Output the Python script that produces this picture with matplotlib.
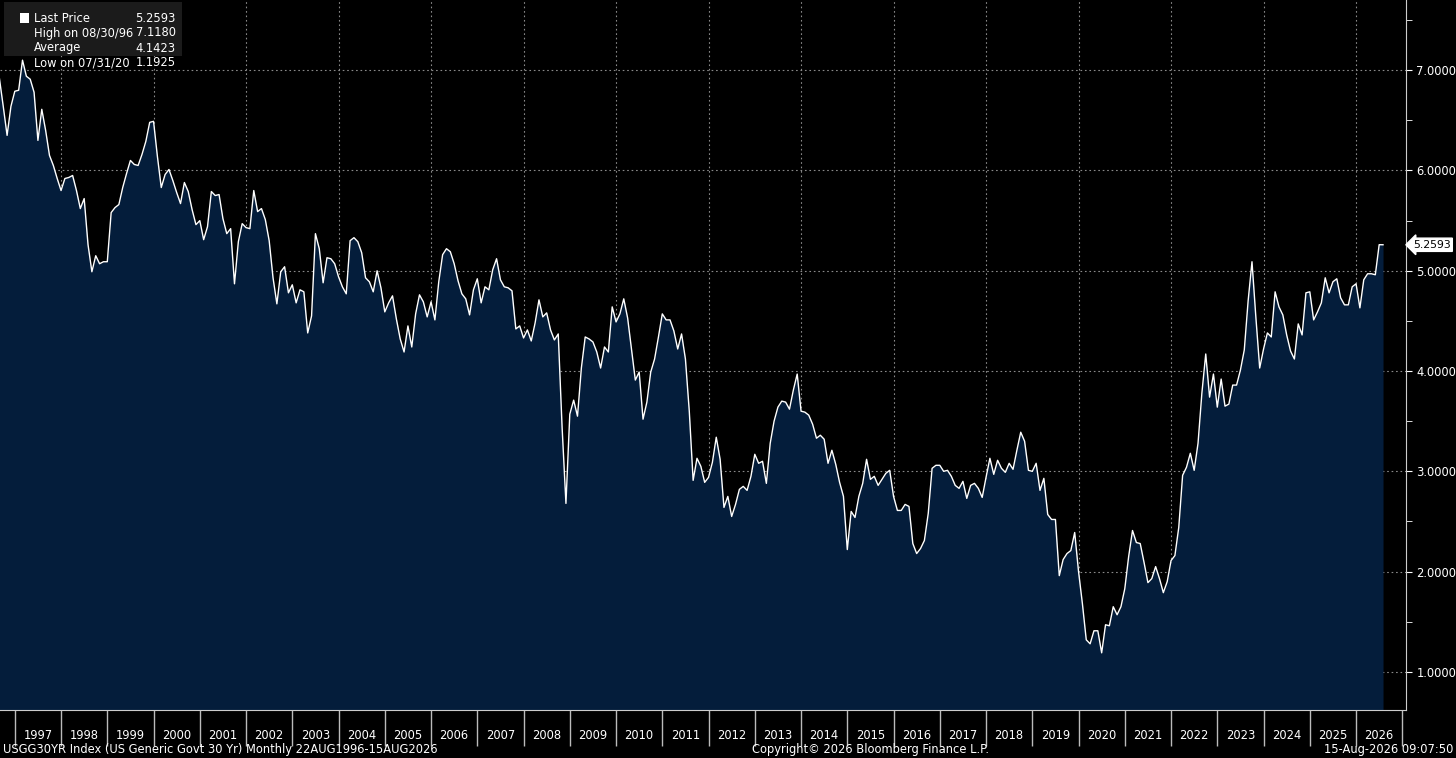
import matplotlib.pyplot as plt
import numpy as np

# monthly 30Y yields, Aug 1996 .. Aug 2026
yields_by_year = {
    1996: [7.12, 6.92, 6.64, 6.35, 6.64],
    1997: [6.79, 6.80, 7.10, 6.94, 6.91, 6.78, 6.30, 6.61, 6.40, 6.15, 6.05, 5.92],
    1998: [5.80, 5.92, 5.93, 5.95, 5.80, 5.62, 5.72, 5.26, 4.99, 5.15, 5.07, 5.09],
    1999: [5.09, 5.58, 5.63, 5.66, 5.83, 5.97, 6.10, 6.06, 6.05, 6.16, 6.29, 6.48],
    2000: [6.49, 6.14, 5.83, 5.96, 6.01, 5.90, 5.78, 5.67, 5.88, 5.79, 5.61, 5.46],
    2001: [5.50, 5.31, 5.44, 5.79, 5.75, 5.76, 5.52, 5.37, 5.42, 4.87, 5.29, 5.47],
    2002: [5.43, 5.42, 5.80, 5.59, 5.62, 5.51, 5.30, 4.93, 4.67, 4.99, 5.04, 4.78],
    2003: [4.86, 4.68, 4.81, 4.79, 4.38, 4.55, 5.37, 5.22, 4.88, 5.13, 5.12, 5.07],
    2004: [4.94, 4.84, 4.77, 5.30, 5.33, 5.29, 5.18, 4.93, 4.89, 4.79, 5.00, 4.83],
    2005: [4.59, 4.68, 4.75, 4.52, 4.32, 4.19, 4.45, 4.24, 4.57, 4.76, 4.69, 4.54],
    2006: [4.69, 4.51, 4.89, 5.16, 5.22, 5.19, 5.07, 4.90, 4.77, 4.72, 4.56, 4.81],
    2007: [4.92, 4.68, 4.84, 4.81, 5.01, 5.12, 4.91, 4.84, 4.83, 4.80, 4.42, 4.45],
    2008: [4.33, 4.41, 4.30, 4.48, 4.71, 4.54, 4.58, 4.41, 4.31, 4.37, 3.44, 2.68],
    2009: [3.57, 3.71, 3.55, 4.03, 4.34, 4.32, 4.29, 4.19, 4.03, 4.24, 4.19, 4.64],
    2010: [4.49, 4.57, 4.72, 4.53, 4.22, 3.91, 3.99, 3.52, 3.69, 3.99, 4.12, 4.34],
    2011: [4.57, 4.51, 4.51, 4.40, 4.22, 4.37, 4.12, 3.60, 2.91, 3.13, 3.05, 2.89],
    2012: [2.94, 3.09, 3.34, 3.12, 2.64, 2.75, 2.55, 2.67, 2.82, 2.85, 2.81, 2.95],
    2013: [3.17, 3.08, 3.10, 2.88, 3.28, 3.50, 3.64, 3.70, 3.69, 3.62, 3.81, 3.97],
    2014: [3.60, 3.59, 3.56, 3.47, 3.33, 3.36, 3.32, 3.08, 3.21, 3.07, 2.89, 2.75],
    2015: [2.22, 2.60, 2.54, 2.75, 2.88, 3.12, 2.92, 2.95, 2.86, 2.92, 2.98, 3.01],
    2016: [2.75, 2.61, 2.61, 2.67, 2.65, 2.28, 2.18, 2.23, 2.31, 2.58, 3.03, 3.06],
    2017: [3.06, 3.00, 3.01, 2.95, 2.86, 2.83, 2.90, 2.73, 2.86, 2.88, 2.83, 2.74],
    2018: [2.94, 3.13, 2.97, 3.11, 3.03, 2.99, 3.08, 3.02, 3.21, 3.39, 3.30, 3.01],
    2019: [3.00, 3.08, 2.81, 2.93, 2.57, 2.52, 2.52, 1.96, 2.12, 2.18, 2.21, 2.39],
    2020: [2.00, 1.68, 1.32, 1.28, 1.41, 1.41, 1.19, 1.47, 1.46, 1.65, 1.57, 1.65],
    2021: [1.83, 2.15, 2.41, 2.29, 2.28, 2.09, 1.89, 1.93, 2.05, 1.93, 1.79, 1.90],
    2022: [2.11, 2.16, 2.44, 2.96, 3.04, 3.18, 3.01, 3.28, 3.78, 4.17, 3.74, 3.97],
    2023: [3.64, 3.92, 3.65, 3.67, 3.86, 3.86, 4.01, 4.21, 4.70, 5.09, 4.54, 4.03],
    2024: [4.22, 4.38, 4.34, 4.79, 4.64, 4.56, 4.36, 4.20, 4.12, 4.47, 4.36, 4.78],
    2025: [4.79, 4.51, 4.59, 4.68, 4.93, 4.78, 4.89, 4.92, 4.73, 4.66, 4.66, 4.84],
    2026: [4.87, 4.63, 4.91, 4.97, 4.97, 4.96, 5.26, 5.2593],
}
year_labels = list(range(1997, 2027))
y_ticks = [1, 2, 3, 4, 5, 6, 7]

x, y = [], []
for yr, vals in yields_by_year.items():
    start = 8 if yr == 1996 else 1
    for i, v in enumerate(vals):
        x.append(yr + (start - 1 + i) / 12)
        y.append(v)
x = np.array(x)
y = np.array(y)

fs = 8.3
fig = plt.figure(figsize=(14.56, 7.58), dpi=100, facecolor="black")
ax = fig.add_axes([0, 48 / 758, 1406 / 1456, 710 / 758], facecolor="black")

ax.fill_between(x, y, 0, color="#041d3b", lw=0)
ax.plot(x, y, color="white", lw=1.0)

ax.set_xlim(1996.68, 2027.08)
ax.set_ylim(0.62, 7.70)

ax.yaxis.tick_right()
ax.set_yticks(y_ticks)
ax.set_yticklabels([f"{t:.4f}" for t in y_ticks])
ax.set_yticks(np.arange(1.5, 7.6, 1.0), minor=True)
ax.tick_params(axis="y", which="both", colors="white", labelsize=fs, length=4, direction="out")

ax.set_xticks(range(1997, 2028))
ax.set_xticklabels([])
ax.set_xticks([yr + 0.5 for yr in year_labels], minor=True)
ax.set_xticklabels([str(yr) for yr in year_labels], minor=True)
ax.tick_params(axis="x", which="major", colors="#bbbbbb", length=26, width=1, direction="out")
ax.tick_params(axis="x", which="minor", colors="white", length=0, labelsize=fs, pad=14)

for g in y_ticks:
    ax.axhline(g, color="#8a8a8a", lw=0.8, ls=(0, (1.5, 2.5)), zorder=0.5)
for g in range(1998, 2027, 2):
    ax.axvline(g, color="#8a8a8a", lw=0.8, ls=(0, (1.5, 2.5)), zorder=0.5)

for s in ["top", "left"]:
    ax.spines[s].set_visible(False)
ax.spines["right"].set_color("#cccccc")
ax.spines["bottom"].set_color("#cccccc")

# last price tag
ax.annotate("5.2593", xy=(1.0, y[-1]), xycoords=("axes fraction", "data"),
            xytext=(5, 0), textcoords="offset points", va="center", ha="left",
            fontsize=7.8, color="black",
            bbox=dict(boxstyle="larrow,pad=0.15", fc="white", ec="white"))

# legend box
fig.patches.append(plt.Rectangle((4 / 1456, 1 - 56 / 758), 178 / 1456, 54 / 758,
                                 transform=fig.transFigure, fc="#1b1b1b", ec="none"))
rows = [("Last Price", "5.2593"), ("High on 08/30/96", "7.1180"),
        ("Average", "4.1423"), ("Low on 07/31/20", "1.1925")]
for i, (lab, val) in enumerate(rows):
    yy = 1 - (18 + i * 15) / 758
    fig.text(34 / 1456, yy, lab, color="white", fontsize=fs, va="center")
    fig.text(176 / 1456, yy, val, color="white", fontsize=fs, va="center", ha="right")
fig.patches.append(plt.Rectangle((20 / 1456, 1 - 23 / 758), 9 / 1456, 10 / 758,
                                 transform=fig.transFigure, fc="white", ec="none"))

# footer
fig.text(3 / 1456, 8 / 758, "USGG30YR Index (US Generic Govt 30 Yr) Monthly 22AUG1996-15AUG2026",
         color="white", fontsize=fs, va="center")
fig.text(870 / 1456, 8 / 758, "Copyright\u00a9 2026 Bloomberg Finance L.P.",
         color="white", fontsize=fs, va="center", ha="center")
fig.text(1453 / 1456, 8 / 758, "15-Aug-2026 09:07:50",
         color="white", fontsize=fs, va="center", ha="right")

fig.savefig("out.png", dpi=100, facecolor="black")
